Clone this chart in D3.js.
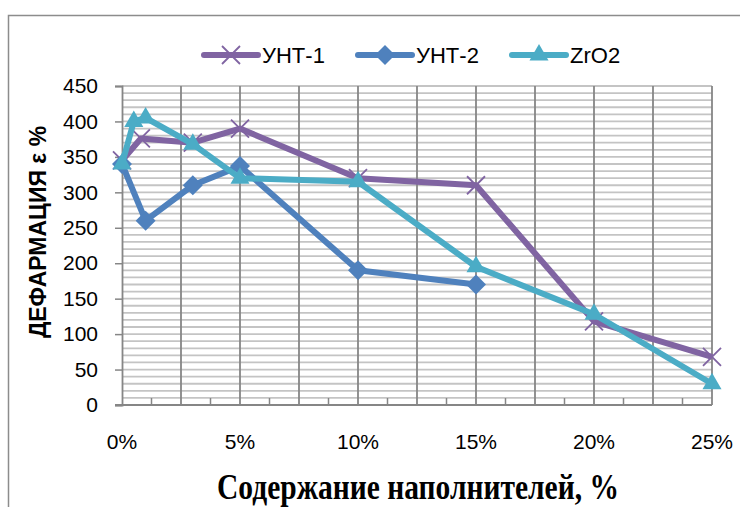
<!DOCTYPE html>
<html>
<head>
<meta charset="utf-8">
<script src="https://cdn.jsdelivr.net/npm/d3@7"></script>
<style>
  body { margin: 0; background: white; }
</style>
</head>
<body>
<div id="chart"></div>
<script>
// series data (x as share, y as %)
const unt1X = [0, 0.008, 0.03, 0.05, 0.10, 0.15, 0.20, 0.25];
const unt1Y = [345, 376, 370, 390, 320, 310, 118, 68];
const unt2X = [0, 0.01, 0.03, 0.05, 0.10, 0.15];
const unt2Y = [340, 260, 310, 337, 190, 170];
const zrX = [0, 0.005, 0.01, 0.03, 0.05, 0.10, 0.15, 0.20, 0.25];
const zrY = [340, 400, 405, 368, 320, 315, 195, 128, 30];

const seriesNames = ["УНТ-1", "УНТ-2", "ZrO2"];
const seriesColors = ["#8064A2", "#4F81BD", "#4BACC6"];
const xTicks = [0, 0.05, 0.10, 0.15, 0.20, 0.25];
const yTicks = [0, 50, 100, 150, 200, 250, 300, 350, 400, 450];

const W = 740, H = 507;
const PLOT = { LEFT: 122, RIGHT: 712, TOP: 86, BOTTOM: 405 };

const svg = d3.select("#chart").append("svg")
  .attr("width", W)
  .attr("height", H)
  .style("font-family", "'Liberation Sans', Arial, sans-serif");

// outer chart frame (runs off the right and bottom)
svg.append("rect")
  .attr("x", 8.5).attr("y", 15.5)
  .attr("width", W + 20).attr("height", H + 20)
  .attr("fill", "white")
  .attr("stroke", "#8c8c8c")
  .attr("stroke-width", 1.5);

const x = d3.scaleLinear().domain([0, 0.25]).range([PLOT.LEFT, PLOT.RIGHT]);
const y = d3.scaleLinear().domain([0, 450]).range([PLOT.BOTTOM, PLOT.TOP]);

// minor horizontal gridlines every 10
const g = svg.append("g");
g.selectAll(".hgrid")
  .data(d3.range(10, 451, 10))
  .enter().append("line")
  .attr("x1", PLOT.LEFT).attr("x2", PLOT.RIGHT)
  .attr("y1", d => y(d)).attr("y2", d => y(d))
  .attr("stroke", "#c4c4c4")
  .attr("stroke-width", 1.8);

// vertical gridlines every 2.5%
g.selectAll(".vgrid")
  .data(d3.range(1, 11).map(i => i * 0.025))
  .enter().append("line")
  .attr("x1", d => x(d)).attr("x2", d => x(d))
  .attr("y1", PLOT.TOP).attr("y2", PLOT.BOTTOM)
  .attr("stroke", "#868686")
  .attr("stroke-width", 1.8);

// minor x ticks (inside, upward)
g.selectAll(".xminor")
  .data(d3.range(0, 10).map(i => i * 0.025 + 0.0125))
  .enter().append("line")
  .attr("x1", d => x(d)).attr("x2", d => x(d))
  .attr("y1", PLOT.BOTTOM - 7).attr("y2", PLOT.BOTTOM)
  .attr("stroke", "#868686")
  .attr("stroke-width", 1.5);

// y axis
const yAxis = svg.append("g")
  .attr("transform", `translate(${PLOT.LEFT},0)`)
  .call(d3.axisLeft(y).tickValues(yTicks).tickSize(7).tickPadding(17).tickFormat(d3.format("d")));
yAxis.select(".domain").attr("stroke", "#868686").attr("stroke-width", 1.8);
yAxis.selectAll(".tick line").attr("stroke", "#868686").attr("stroke-width", 1.5);
yAxis.selectAll(".tick text")
  .attr("fill", "#000")
  .style("font-size", "21px")
  .style("font-family", "'Liberation Sans', Arial, sans-serif");

// x axis line
svg.append("line")
  .attr("x1", PLOT.LEFT - 7).attr("x2", PLOT.RIGHT)
  .attr("y1", PLOT.BOTTOM).attr("y2", PLOT.BOTTOM)
  .attr("stroke", "#868686").attr("stroke-width", 1.8);

svg.append("g").selectAll("text")
  .data(xTicks)
  .enter().append("text")
  .attr("x", d => x(d))
  .attr("y", 449)
  .attr("text-anchor", "middle")
  .style("font-size", "21px")
  .text(d => d3.format(".0%")(d));

// series
const series = [
  { xs: unt1X, ys: unt1Y, marker: "x" },
  { xs: unt2X, ys: unt2Y, marker: "diamond" },
  { xs: zrX, ys: zrY, marker: "triangle" },
];

const line = d3.line().x(d => x(d[0])).y(d => y(d[1]));

function drawMarker(sel, type, color) {
  if (type === "x") {
    sel.append("path")
      .attr("d", "M-9,-9L9,9M-9,9L9,-9")
      .attr("stroke", color).attr("stroke-width", 1.8).attr("fill", "none");
  } else if (type === "diamond") {
    sel.append("path")
      .attr("d", "M0,-10L10,0L0,10L-10,0Z")
      .attr("fill", color);
  } else {
    sel.append("path")
      .attr("d", d3.symbol().type(d3.symbolTriangle2).size(260)())
      .attr("fill", color);
  }
}

series.forEach((s, i) => {
  const pts = s.xs.map((v, k) => [v, s.ys[k]]);
  svg.append("path")
    .datum(pts)
    .attr("d", line)
    .attr("fill", "none")
    .attr("stroke", seriesColors[i])
    .attr("stroke-width", 6)
    .attr("stroke-linejoin", "round");
  pts.forEach(p => {
    const m = svg.append("g").attr("transform", `translate(${x(p[0])},${y(p[1])})`);
    drawMarker(m, s.marker, seriesColors[i]);
  });
});

// legend
const legendX = [204, 358, 512];
const legend = svg.append("g");
seriesNames.forEach((name, i) => {
  const lg = legend.append("g").attr("transform", `translate(${legendX[i]},55)`);
  lg.append("line")
    .attr("x1", 0).attr("x2", 54)
    .attr("stroke", seriesColors[i]).attr("stroke-width", 6)
    .attr("stroke-linecap", "round");
  const m = lg.append("g").attr("transform", "translate(27,0)");
  drawMarker(m, series[i].marker, seriesColors[i]);
  lg.append("text")
    .attr("x", 58).attr("y", 8)
    .style("font-size", "22px")
    .text(name);
});

// axis titles
svg.append("text")
  .attr("transform", "translate(46,232) rotate(-90)")
  .attr("text-anchor", "middle")
  .style("font-size", "23px")
  .style("font-weight", "bold")
  .text("ДЕФАРМАЦИЯ ε %");

svg.append("text")
  .attr("transform", "translate(418,499) scale(1,1.2)")
  .attr("text-anchor", "middle")
  .style("font-family", "'Liberation Serif', 'Times New Roman', serif")
  .style("font-size", "29.5px")
  .style("font-weight", "bold")
  .text("Содержание наполнителей, %");
</script>
</body>
</html>
